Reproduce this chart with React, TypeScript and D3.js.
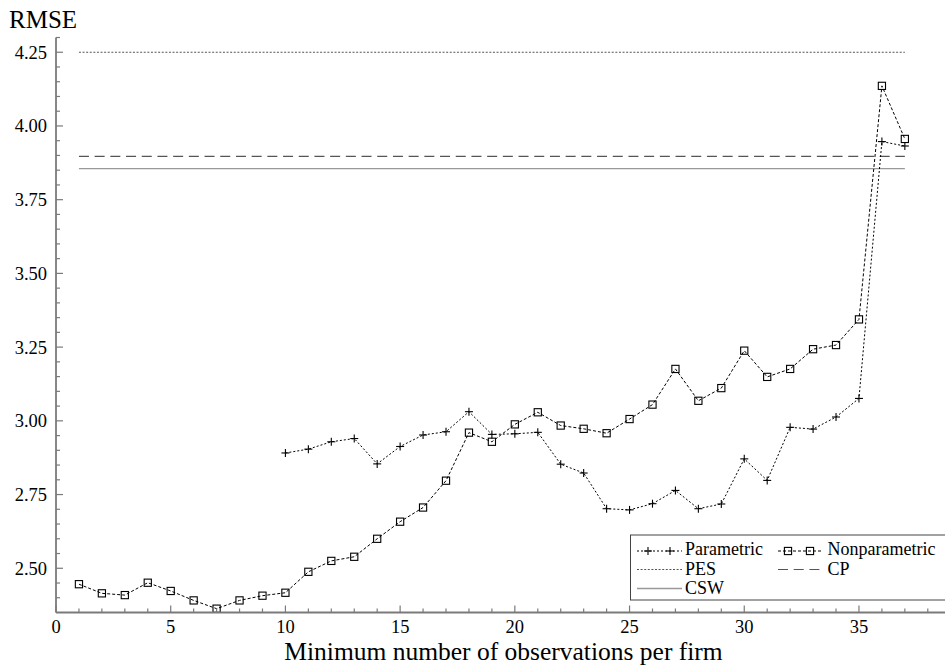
import React from "react";
import * as d3 from "d3";

// Minimum number of observations per firm (x) for each estimator
const nonparametricX = [1, 2, 3, 4, 5, 6, 7, 8, 9, 10, 11, 12, 13, 14, 15, 16, 17, 18, 19, 20, 21, 22, 23, 24, 25, 26, 27, 28, 29, 30, 31, 32, 33, 34, 35, 36, 37];
const nonparametricRMSE = [2.446, 2.415, 2.409, 2.451, 2.423, 2.391, 2.363, 2.391, 2.407, 2.417, 2.488, 2.525, 2.539, 2.600, 2.658, 2.706, 2.797, 2.960, 2.929, 2.988, 3.029, 2.984, 2.973, 2.958, 3.006, 3.055, 3.176, 3.068, 3.111, 3.238, 3.149, 3.176, 3.243, 3.257, 3.344, 4.136, 3.956];

const parametricX = [10, 11, 12, 13, 14, 15, 16, 17, 18, 19, 20, 21, 22, 23, 24, 25, 26, 27, 28, 29, 30, 31, 32, 33, 34, 35, 36, 37];
const parametricRMSE = [2.891, 2.904, 2.929, 2.940, 2.854, 2.913, 2.952, 2.963, 3.031, 2.954, 2.956, 2.961, 2.853, 2.823, 2.702, 2.698, 2.719, 2.764, 2.702, 2.718, 2.871, 2.798, 2.978, 2.972, 3.013, 3.076, 3.947, 3.932];

// Benchmark RMSE levels, drawn as horizontal references
const benchmarkNames = ["PES", "CP", "CSW"];
const benchmarkRMSE = [4.25, 3.897, 3.855];
const benchmarkSpan = [1, 37];

const xTickLabels = [0, 5, 10, 15, 20, 25, 30, 35];
const yTickLabels = [2.5, 2.75, 3.0, 3.25, 3.5, 3.75, 4.0, 4.25];

const W = 945;
const H = 666;
const FONT = "'Liberation Serif', 'DejaVu Serif', 'Times New Roman', serif";
const AXIS = "#7a7a7a";

const benchStyle: Record<string, { stroke: string; dash?: string; width: number }> = {
  PES: { stroke: "#555", dash: "2 1.6", width: 1.2 },
  CP: { stroke: "#555", dash: "10 5.7", width: 1.2 },
  CSW: { stroke: "#999", width: 1.3 },
};

const txt = (size: number): React.CSSProperties => ({ fontFamily: FONT, fontSize: size + "px" });

function Plus({ x, y, s = 4 }: { x: number; y: number; s?: number }) {
  return (
    <g stroke="#000" strokeWidth={1.1}>
      <line x1={x - s} x2={x + s} y1={y} y2={y} />
      <line x1={x} x2={x} y1={y - s} y2={y + s} />
    </g>
  );
}

function Square({ x, y, s = 3.6 }: { x: number; y: number; s?: number }) {
  return <rect x={x - s} y={y - s} width={2 * s} height={2 * s} fill="none" stroke="#000" strokeWidth={1.1} />;
}

export default function App() {
  const x = d3.scaleLinear().domain([0, 38.75]).range([56, 945]);
  const y = d3.scaleLinear().domain([2.35, 4.3]).range([612.5, 37.5]);

  const line = d3
    .line<[number, number]>()
    .x((d) => x(d[0]))
    .y((d) => y(d[1]));

  const nonPts: [number, number][] = nonparametricX.map((v, i) => [v, nonparametricRMSE[i]]);
  const parPts: [number, number][] = parametricX.map((v, i) => [v, parametricRMSE[i]]);

  const xMinor = d3.range(0, 39, 1);
  const yMinor = d3.range(2.4, 4.3001, 0.05);

  const x0 = x(0);
  const yBase = y(2.35);

  return (
    <svg width={W} height={H} style={{ position: "absolute", left: 0, top: 0, background: "#fff" }}>
      <rect x={0} y={0} width={W} height={H} fill="#fff" />

      {/* benchmark levels */}
      {benchmarkNames.map((name, i) => {
        const st = benchStyle[name];
        return (
          <line
            key={name}
            x1={x(benchmarkSpan[0])}
            x2={x(benchmarkSpan[1])}
            y1={y(benchmarkRMSE[i])}
            y2={y(benchmarkRMSE[i])}
            stroke={st.stroke}
            strokeWidth={st.width}
            strokeDasharray={st.dash}
          />
        );
      })}

      {/* series */}
      <path d={line(nonPts) || ""} fill="none" stroke="#000" strokeWidth={1} strokeDasharray="3 2" />
      <path d={line(parPts) || ""} fill="none" stroke="#000" strokeWidth={1} strokeDasharray="2 2" />
      {nonPts.map((d, i) => (
        <Square key={"n" + i} x={x(d[0])} y={y(d[1])} />
      ))}
      {parPts.map((d, i) => (
        <Plus key={"p" + i} x={x(d[0])} y={y(d[1])} />
      ))}

      {/* y axis */}
      <line x1={x0} x2={x0} y1={y(4.3)} y2={yBase} stroke={AXIS} strokeWidth={1.8} />
      {yMinor.map((v) => {
        const major = yTickLabels.some((t) => Math.abs(t - v) < 1e-6);
        return (
          <line key={"ym" + v.toFixed(2)} x1={x0} x2={x0 + (major ? 7 : 4)} y1={y(v)} y2={y(v)} stroke={AXIS} strokeWidth={1.2} />
        );
      })}
      {yTickLabels.map((v) => (
        <text key={"yl" + v} x={47} y={y(v)} dy="0.35em" textAnchor="end" style={txt(18.5)} fill="#000">
          {v.toFixed(2)}
        </text>
      ))}
      <text x={9} y={28} style={txt(25)} fill="#000">
        RMSE
      </text>

      {/* x axis */}
      <line x1={x0} x2={W} y1={yBase} y2={yBase} stroke={AXIS} strokeWidth={1.8} />
      {xMinor.map((v) => {
        const major = v % 5 === 0;
        return (
          <line key={"xm" + v} x1={x(v)} x2={x(v)} y1={yBase} y2={yBase - (major ? 7 : 4)} stroke={AXIS} strokeWidth={1.2} />
        );
      })}
      {xTickLabels.map((v) => (
        <text key={"xl" + v} x={x(v)} y={633} textAnchor="middle" style={txt(18.5)} fill="#000">
          {v}
        </text>
      ))}
      <text x={(x0 + W) / 2 + 3} y={660} textAnchor="middle" style={txt(25.5)} fill="#000">
        Minimum number of observations per firm
      </text>

      {/* legend */}
      <g>
        <rect x={630.5} y={535} width={330} height={65} fill="#fff" stroke="#444" strokeWidth={1} />
        <line x1={637} x2={682} y1={551} y2={551} stroke="#000" strokeDasharray="2 2" />
        <Plus x={648} y={551} />
        <Plus x={670} y={551} />
        <text x={685} y={555} style={txt(18)} fill="#000">Parametric</text>

        <line x1={778} x2={823} y1={551} y2={551} stroke="#000" strokeDasharray="3 2" />
        <Square x={788} y={551} />
        <Square x={810} y={551} />
        <text x={827.5} y={555} style={txt(18)} fill="#000">Nonparametric</text>

        <line x1={637} x2={682} y1={569.5} y2={569.5} stroke={benchStyle.PES.stroke} strokeDasharray={benchStyle.PES.dash} strokeWidth={1.2} />
        <text x={685} y={574.5} style={txt(18)} fill="#000">{benchmarkNames[0]}</text>

        <line x1={778} x2={823} y1={569.5} y2={569.5} stroke={benchStyle.CP.stroke} strokeDasharray={benchStyle.CP.dash} strokeWidth={1.2} />
        <text x={827.5} y={574.5} style={txt(18)} fill="#000">{benchmarkNames[1]}</text>

        <line x1={637} x2={682} y1={588.5} y2={588.5} stroke={benchStyle.CSW.stroke} strokeWidth={1.3} />
        <text x={685} y={594} style={txt(18)} fill="#000">{benchmarkNames[2]}</text>
      </g>
    </svg>
  );
}
